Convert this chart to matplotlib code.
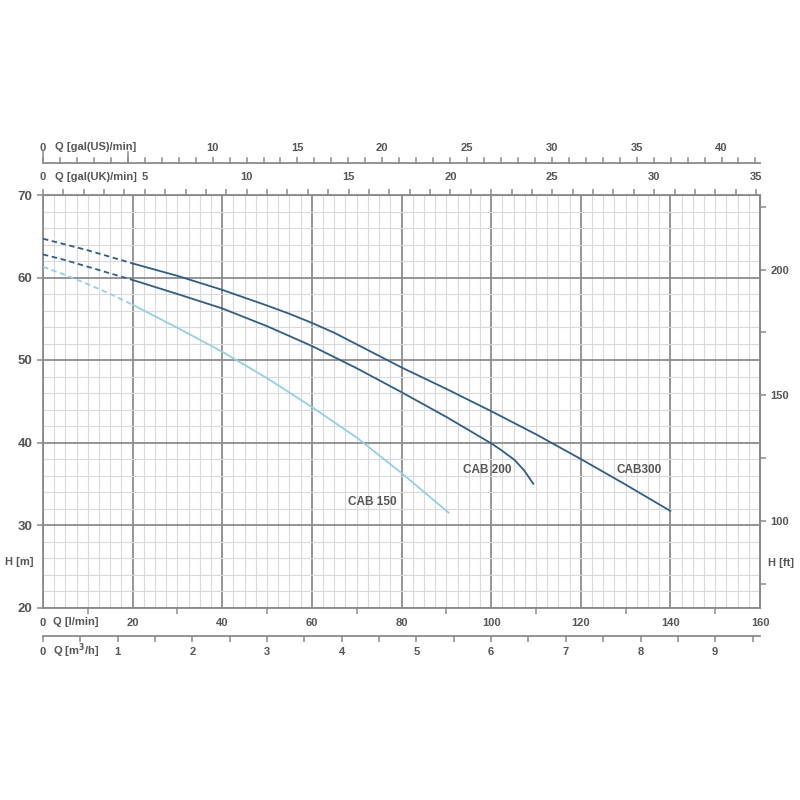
import numpy as np
import matplotlib
matplotlib.use("Agg")
from matplotlib import pyplot as plt

# Pump curves: flow Q [l/min] and head H [m]
q_cab300 = [0, 5, 10, 15, 20, 30, 40, 50, 55, 60, 65, 70, 80, 90, 100, 110, 120, 130, 140]
h_cab300 = [64.7, 64.0, 63.3, 62.5, 61.7, 60.2, 58.5, 56.6, 55.6, 54.5, 53.3, 51.9, 49.1, 46.5, 43.8, 41.0, 38.0, 34.9, 31.7]

q_cab200 = [0, 5, 10, 15, 20, 30, 40, 50, 60, 70, 80, 90, 100, 102.2, 105.2, 107.4, 109.4]
h_cab200 = [62.8, 62.1, 61.3, 60.5, 59.7, 58.0, 56.25, 54.1, 51.7, 49.0, 46.1, 43.1, 39.9, 39.1, 37.9, 36.6, 35.0]

q_cab150 = [0, 5, 10, 15, 20, 30, 40, 50, 60, 70, 80, 90.5]
h_cab150 = [61.3, 60.3, 59.2, 58.0, 56.7, 53.9, 51.0, 47.8, 44.3, 40.6, 36.3, 31.5]

curve_names = ["CAB300", "CAB 200", "CAB 150"]
label_pos = [(133.1, 36.65), (99.1, 36.65), (73.4, 32.8)]

DARK = "#2e5d8c"
LIGHT = "#93d0e2"
TXT = "#555555"
AXC = "#8a8a8a"
FS = 8

plt.rcParams["font.family"] = ["Liberation Sans", "DejaVu Sans"]
plt.rcParams["font.weight"] = "bold"

fig = plt.figure(figsize=(8, 8), dpi=100)
ax = fig.add_axes([43 / 800, 1 - 607.5 / 800, 717 / 800, 412.5 / 800])
ax.set_xlim(0, 160)
ax.set_ylim(20, 70)

# grid paper
for v in np.arange(0, 160.01, 2.5):
    major = v % 20 == 0
    ax.axvline(v, color="#8c8c8c" if major else "#d9d9d9",
               lw=1.3 if major else 0.8, zorder=1)
for v in np.arange(20, 70.01, 2):
    major = v % 10 == 0
    ax.axhline(v, color="#8c8c8c" if major else "#d9d9d9",
               lw=1.3 if major else 0.8, zorder=1)

# curves: dashed below 20 l/min, solid after
curves = [(q_cab300, h_cab300, DARK), (q_cab200, h_cab200, DARK), (q_cab150, h_cab150, LIGHT)]
for (q, h, c), name, (lx, ly) in zip(curves, curve_names, label_pos):
    q = np.array(q)
    h = np.array(h)
    dash = q <= 20
    ax.plot(q[dash], h[dash], color=c, lw=1.3, ls=(0, (3, 2)), zorder=3)
    ax.plot(q[q >= 20], h[q >= 20], color=c, lw=1.3, zorder=3)
    ax.text(lx, ly, name, color=TXT, fontsize=8.5, ha="center", va="center", zorder=4)

for s in ax.spines.values():
    s.set_color(AXC)
    s.set_linewidth(1.3)

# bottom axis: l/min
ax.set_xticks(np.arange(0, 161, 20))
ax.set_xticks([0] + list(range(10, 160, 20)) + [160], minor=True)
ax.tick_params(axis="x", which="major", length=0, pad=7.5, labelsize=FS, labelcolor=TXT)
ax.tick_params(axis="x", which="minor", length=4, width=1.1, color=AXC, direction="out")

# left axis: H [m]
ax.set_yticks(np.arange(20, 71, 10))
ax.tick_params(axis="y", which="major", length=4.5, width=1.1, color=AXC,
               pad=3, labelsize=9.5, labelcolor=TXT)

# top axis: gal(UK)/min on the frame
ax_uk = ax.secondary_xaxis("top", functions=(lambda x: x / 4.54609, lambda x: x * 4.54609))
ax_uk.set_xticks(np.arange(0, 36, 5))
ax_uk.set_xticks(np.arange(0, 36, 1), minor=True)
ax_uk.tick_params(which="both", length=4.5, width=1.1, color=AXC, pad=5,
                  labelsize=FS, labelcolor=TXT)
ax_uk.set_xticklabels(["0", "5", "10", "15", "20", "25", "30", "35"])
ax_uk.spines["top"].set_color(AXC)

# top axis: gal(US)/min, separate line above
ax_us = ax.secondary_xaxis(1.0776, functions=(lambda x: x / 3.78541, lambda x: x * 3.78541))
ax_us.set_xticks(np.arange(0, 42, 5))
ax_us.set_xticks([0, 5], minor=True)
ax_us.xaxis.remove_overlapping_locs = False
ax_us.set_xticklabels(["0", "", "10", "15", "20", "25", "30", "35", "40"])
ax_us.tick_params(which="major", length=4, width=1.1, color=AXC, pad=3.5,
                  labelsize=FS, labelcolor=TXT)
ax_us.tick_params(which="minor", length=9, width=1.1, color=AXC)
ax_us.spines["top"].set_color(AXC)
ax_us.spines["top"].set_linewidth(1.3)
# small ticks every gallon
for g in range(1, 43):
    if g % 5:
        ax.plot([g * 3.78541] * 2, [1.0776, 1.0776 + 0.012], color=AXC, lw=1.1,
                transform=ax.get_xaxis_transform(), clip_on=False)

# bottom axis: m3/h, separate line below
ax_m3 = ax.secondary_xaxis(-0.069, functions=(lambda x: x * 0.06, lambda x: x / 0.06))
ax_m3.set_xticks(np.arange(0, 10, 1))
ax_m3.set_xticks(np.arange(0.5, 9.6, 1), minor=True)
ax_m3.set_xticklabels(["0"] + [str(i) for i in range(1, 10)])
ax_m3.tick_params(which="both", length=4.5, width=1.1, color=AXC, pad=3.5,
                  labelsize=FS, labelcolor=TXT)
ax_m3.spines["bottom"].set_color(AXC)
ax_m3.spines["bottom"].set_linewidth(1.3)

# right axis: H [ft]
ax_ft = ax.secondary_yaxis("right", functions=(lambda m: m / 0.3048, lambda f: f * 0.3048))
ax_ft.set_yticks([75, 100, 125, 150, 175, 200, 225])
ax_ft.set_yticklabels(["", "100", "", "150", "", "200", ""])
ax_ft.tick_params(length=4.5, width=1.1, color=AXC, pad=3, labelsize=FS, labelcolor=TXT)
ax_ft.spines["right"].set_color(AXC)

# axis names
fig.text(55 / 800, 1 - 146.5 / 800, "Q [gal(US)/min]", fontsize=FS, color=TXT, va="center")
fig.text(55 / 800, 1 - 177 / 800, "Q [gal(UK)/min]", fontsize=FS, color=TXT, va="center")
fig.text(53 / 800, 1 - 622 / 800, "Q [l/min]", fontsize=FS, color=TXT, va="center")
fig.text(53 / 800, 1 - 651 / 800, "Q [m$^3$/h]", fontsize=FS, color=TXT, va="center")
fig.text(19.5 / 800, 1 - 562 / 800, "H [m]", fontsize=FS, color=TXT, va="center", ha="center")
fig.text(768 / 800, 1 - 563 / 800, "H [ft]", fontsize=FS, color=TXT, va="center")

fig.savefig("out.png", dpi=100, facecolor="white")
